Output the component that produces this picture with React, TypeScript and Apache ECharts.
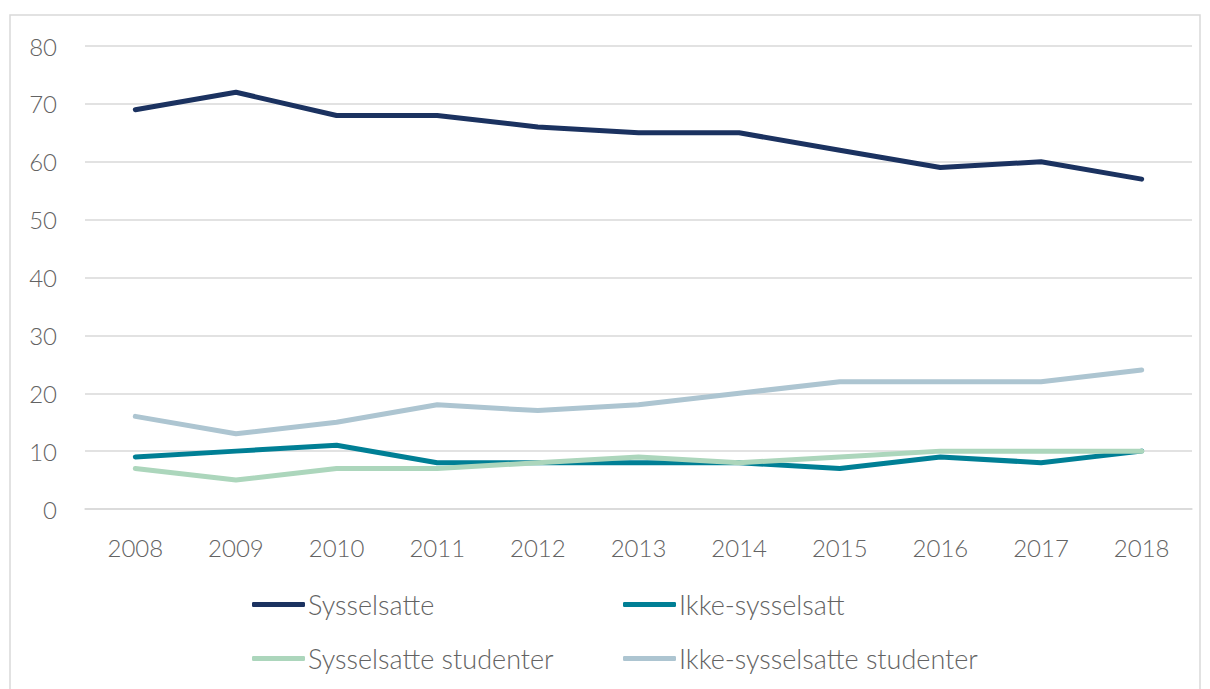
import React, { useEffect, useRef } from "react";
import * as echarts from "echarts";

const years = ["2008", "2009", "2010", "2011", "2012", "2013", "2014", "2015", "2016", "2017", "2018"];
const sysselsatte = [69, 72, 68, 68, 66, 65, 65, 62, 59, 60, 57];
const ikkeSysselsatt = [9, 10, 11, 8, 8, 8, 8, 7, 9, 8, 10];
const sysselsatteStudenter = [7, 5, 7, 7, 8, 9, 8, 9, 10, 10, 10];
const ikkeSysselsatteStudenter = [16, 13, 15, 18, 17, 18, 20, 22, 22, 22, 24];

const seriesNames = ["Sysselsatte", "Ikke-sysselsatt", "Sysselsatte studenter", "Ikke-sysselsatte studenter"];
const seriesData = [sysselsatte, ikkeSysselsatt, sysselsatteStudenter, ikkeSysselsatteStudenter];
const colors = ["#1b3260", "#007f95", "#acd6bc", "#adc5d1"];

const FONT = "Lato";
const TEXT_COLOR = "#636363";

export default function App() {
  const ref = useRef<HTMLDivElement>(null);
  useEffect(() => {
    document.body.style.margin = "0";
    const chart = echarts.init(ref.current!, null, { renderer: "svg" });
    const legendPos = [
      { left: 247, top: 586 },
      { left: 618, top: 586 },
      { left: 247, top: 640 },
      { left: 618, top: 640 },
    ];
    chart.setOption({
      animation: false,
      backgroundColor: "#ffffff",
      textStyle: { fontFamily: FONT },
      graphic: [
        {
          type: "rect",
          shape: { x: 10, y: 15, width: 1190, height: 690 },
          style: { fill: "none", stroke: "#d9d9d9", lineWidth: 1.5 },
          silent: true,
        },
      ],
      grid: { left: 85, right: 18, top: 46, bottom: 180 },
      xAxis: {
        type: "category",
        data: years,
        boundaryGap: true,
        axisLine: { show: true, lineStyle: { color: "#d9d9d9", width: 1.5 } },
        axisTick: { show: false },
        axisLabel: { color: TEXT_COLOR, fontSize: 24, fontFamily: FONT, fontWeight: 300, margin: 26 },
      },
      yAxis: {
        type: "value",
        min: 0,
        max: 80,
        interval: 10,
        axisLine: { show: false },
        axisTick: { show: false },
        splitLine: { lineStyle: { color: "#d9d9d9", width: 1.5 } },
        axisLabel: { color: TEXT_COLOR, fontSize: 24, fontFamily: FONT, fontWeight: 300, margin: 28 },
      },
      legend: seriesNames.map((n, i) => ({
        data: [n],
        left: legendPos[i].left,
        top: legendPos[i].top,
        itemWidth: 53,
        itemHeight: 5,
        itemGap: 5,
        icon: "roundRect",
        selectedMode: false,
        textStyle: { color: TEXT_COLOR, fontSize: 27, fontFamily: FONT, fontWeight: 300, padding: [0, 0, 0, -2] },
      })),
      series: seriesNames.map((n, i) => ({
        name: n,
        type: "line",
        data: seriesData[i],
        symbol: "none",
        color: colors[i],
        lineStyle: { color: colors[i], width: 5, cap: "round", join: "round" },
      })),
    });
    return () => chart.dispose();
  }, []);
  return <div ref={ref} style={{ width: 1210, height: 689 }} />;
}
